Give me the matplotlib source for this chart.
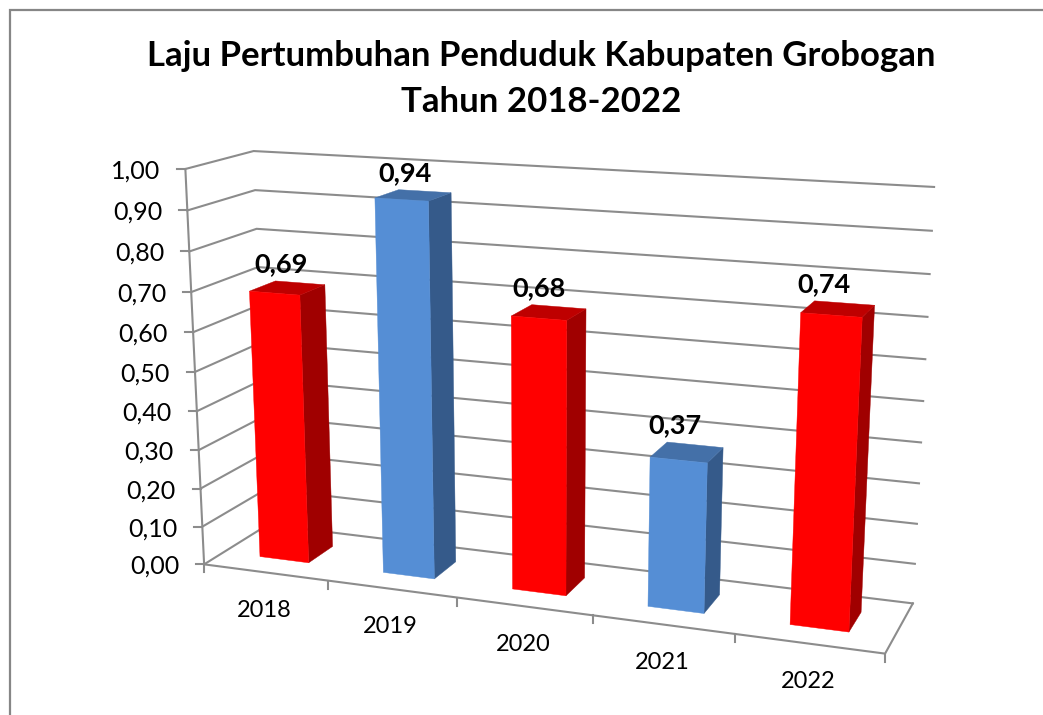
import numpy as np
import matplotlib
matplotlib.use("Agg")
import matplotlib.pyplot as plt
from matplotlib.patches import Polygon

W, H = 1043, 715
years = ["2018", "2019", "2020", "2021", "2022"]
values = [0.69, 0.94, 0.68, 0.37, 0.74]
value_labels = ["0,69", "0,94", "0,68", "0,37", "0,74"]
tick_values = [0.0, 0.1, 0.2, 0.3, 0.4, 0.5, 0.6, 0.7, 0.8, 0.9, 1.0]
tick_labels = ["0,00", "0,10", "0,20", "0,30", "0,40", "0,50", "0,60", "0,70", "0,80", "0,90", "1,00"]
front_colors = ["#FF0000", "#558ED5", "#FF0000", "#558ED5", "#FF0000"]
side_colors = ["#A00000", "#355A8A", "#A00000", "#355A8A", "#A00000"]
top_colors = ["#BE0000", "#4470A8", "#BE0000", "#4470A8", "#BE0000"]
title_text = "Laju Pertumbuhan Penduduk Kabupaten Grobogan\nTahun 2018-2022"

# Perspective of the chart box: model corners (across, depth, height) -> pixels
model_corners = [(0,0,0),(0,0,1),(0,1,1),(0,1,0),(1,1,1),(1,1,0),(1,0,0)]
pixel_corners = [(205,564),(184.5,169),(254.5,151),(267,525),(934,187),(913,603),(885,654)]

A = []
for (u,d,h),(x,y) in zip(model_corners, pixel_corners):
    A.append([u,d,h,1,0,0,0,0,-x*u,-x*d,-x*h,-x])
    A.append([0,0,0,0,u,d,h,1,-y*u,-y*d,-y*h,-y])
P = np.linalg.svd(np.array(A))[2][-1].reshape(3,4)

def proj(u, d, h):
    v = P @ np.array([u, d, h, 1.0])
    return (v[0]/v[2], v[1]/v[2])

fig = plt.figure(figsize=(W/100, H/100), dpi=100)
ax = fig.add_axes([0,0,1,1])
ax.set_xlim(0, W); ax.set_ylim(H, 0); ax.axis("off")

# chart frame: only top and left edges fall inside the picture
ax.plot([9.5, 9.5, W], [H, 10, 10], color="#868686", lw=1.6, zorder=0, solid_joinstyle="miter")

GRID = "#8C8C8C"
LW = 1.5
n = len(years)
ymax = 1.0
# gridlines
for t in tick_values:
    h = t/ymax
    pts = [proj(0,0,h), proj(0,1,h), proj(1,1,h)]
    ax.plot(*zip(*pts), color=GRID, lw=LW, zorder=1, solid_joinstyle="miter")
    x0, y0 = pts[0]
    ax.plot([x0-8, x0], [y0, y0], color=GRID, lw=LW, zorder=1)
# axes
ax.plot(*zip(proj(0,0,0), proj(0,0,1)), color=GRID, lw=LW, zorder=1)
ax.plot(*zip(proj(0,0,0), proj(1,0,0), proj(1,1,0)), color=GRID, lw=LW, zorder=1)
for k in range(n+1):
    x0, y0 = proj(k/n, 0, 0)
    ax.plot([x0, x0], [y0, y0+8], color=GRID, lw=LW, zorder=1)

FONT = "Lato"
for t, s in zip(tick_values, tick_labels):
    x0, y0 = proj(0,0,t/ymax)
    ax.text(x0-25, y0+2, s, ha="right", va="center", fontsize=18, family=FONT, color="black")

# bars
bar_w = 0.40
d0, d1 = 0.30, 0.70
for i in range(n):
    v = values[i]/ymax
    ul = (i + 0.5 - bar_w/2)/n
    ur = (i + 0.5 + bar_w/2)/n
    front = [proj(ul,d0,0), proj(ur,d0,0), proj(ur,d0,v), proj(ul,d0,v)]
    side = [proj(ur,d0,0), proj(ur,d1,0), proj(ur,d1,v), proj(ur,d0,v)]
    top = [proj(ul,d0,v), proj(ur,d0,v), proj(ur,d1,v), proj(ul,d1,v)]
    ax.add_patch(Polygon(side, fc=side_colors[i], ec=side_colors[i], lw=0.3, zorder=3+i))
    ax.add_patch(Polygon(top, fc=top_colors[i], ec=top_colors[i], lw=0.3, zorder=3+i))
    ax.add_patch(Polygon(front, fc=front_colors[i], ec=front_colors[i], lw=0.3, zorder=3+i))
    xt = np.mean([p[0] for p in top]); yt = min(p[1] for p in top)
    ax.text(xt*0.987-3, yt-5, value_labels[i], ha="center", va="bottom", fontsize=19.5, weight="bold",
            family=FONT, color="black", zorder=20)
    # category label
    xl, yl = proj((i+0.5)/n, 0, 0)
    ax.text(xl-1, yl+38, years[i], ha="center", va="center", fontsize=17, family=FONT, color="black")

ax.text(541, 79, title_text, ha="center", va="center", fontsize=25, weight="bold", family=FONT,
        color="black", linespacing=1.5)

fig.savefig("out.png", dpi=100)
